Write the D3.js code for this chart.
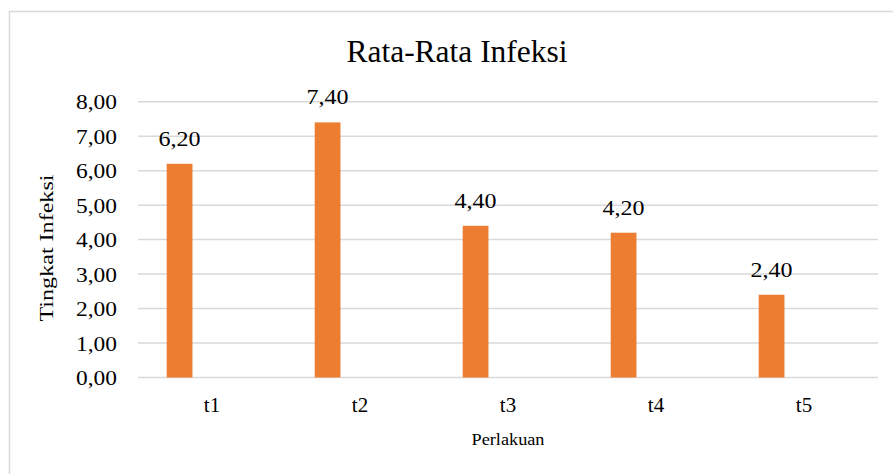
<!DOCTYPE html>
<html>
<head>
<meta charset="utf-8">
<script src="https://cdn.jsdelivr.net/npm/d3@7"></script>
<style>
  body { margin: 0; background: #fff; }
</style>
</head>
<body>
<div id="chart"></div>
<script>
// data
var categories = ["t1", "t2", "t3", "t4", "t5"];
var values = [6.2, 7.4, 4.4, 4.2, 2.4];
var yTicks = [0, 1, 2, 3, 4, 5, 6, 7, 8];

var W = 893, H = 474;
var serif = "'Liberation Serif', 'Times New Roman', Times, serif";
var margin = {top: 101.7, right: 15, bottom: 96.5, left: 138},
    width = W - margin.left - margin.right,
    height = H - margin.top - margin.bottom;

var fmt = function(v) { return d3.format(".2f")(v).replace(".", ","); };

var root = d3.select("#chart")
  .append("svg")
    .attr("width", W)
    .attr("height", H)
    .attr("font-family", serif);

// outer frame
root.append("rect")
  .attr("x", 9.5).attr("y", 11.5)
  .attr("width", W).attr("height", H)
  .attr("fill", "none")
  .attr("stroke", "#d9d9d9")
  .attr("stroke-width", 1.5);

var svg = root.append("g")
  .attr("transform", "translate(" + margin.left + "," + margin.top + ")");

var x = d3.scaleBand()
  .range([0, width])
  .domain(categories);

var y = d3.scaleLinear()
  .domain([0, 8])
  .range([height, 0]);

// gridlines
svg.append("g")
  .selectAll("line")
  .data(yTicks)
  .enter()
  .append("line")
    .attr("x1", 0).attr("x2", width)
    .attr("y1", function(d) { return y(d); })
    .attr("y2", function(d) { return y(d); })
    .attr("stroke", "#d9d9d9")
    .attr("stroke-width", 1.5);

// y axis labels
var yAxis = svg.append("g")
  .call(d3.axisLeft(y).tickValues(yTicks).tickFormat(fmt).tickSize(0).tickPadding(21))
  .attr("font-family", serif)
  .attr("font-size", 20);
yAxis.select(".domain").remove();
yAxis.selectAll("text")
  .attr("fill", "#000")
  .attr("dy", "0.35em")
  .attr("textLength", 41)
  .attr("lengthAdjust", "spacingAndGlyphs");

// x axis labels
var xAxis = svg.append("g")
  .attr("transform", "translate(0," + height + ")")
  .call(d3.axisBottom(x).tickSize(0).tickPadding(20))
  .attr("font-family", serif)
  .attr("font-size", 21);
xAxis.select(".domain").remove();
xAxis.selectAll("text").attr("fill", "#000");

// bars (sit left of center, as in a clustered layout)
var barOff = 0.194, barW = 0.174;
svg.selectAll("mybar")
  .data(values)
  .enter()
  .append("rect")
    .attr("x", function(d, i) { return x(categories[i]) + x.bandwidth() * barOff; })
    .attr("y", function(d) { return y(d); })
    .attr("width", x.bandwidth() * barW)
    .attr("height", function(d) { return height - y(d); })
    .attr("fill", "#ed7d31");

// value labels
svg.selectAll("vlabel")
  .data(values)
  .enter()
  .append("text")
    .attr("x", function(d, i) { return x(categories[i]) + x.bandwidth() * (barOff + barW / 2); })
    .attr("y", function(d) { return y(d) - 18; })
    .attr("text-anchor", "middle")
    .attr("font-size", 21)
    .attr("textLength", 42)
    .attr("lengthAdjust", "spacingAndGlyphs")
    .text(function(d) { return fmt(d); });

// title
root.append("text")
  .attr("x", 457).attr("y", 62)
  .attr("text-anchor", "middle")
  .attr("font-size", 31.5)
  .attr("textLength", 221)
  .attr("lengthAdjust", "spacingAndGlyphs")
  .text("Rata-Rata Infeksi");

// axis titles
root.append("text")
  .attr("transform", "translate(53,248) rotate(-90)")
  .attr("text-anchor", "middle")
  .attr("font-size", 19)
  .attr("textLength", 147)
  .attr("lengthAdjust", "spacingAndGlyphs")
  .text("Tingkat Infeksi");

root.append("text")
  .attr("x", 508).attr("y", 445)
  .attr("text-anchor", "middle")
  .attr("font-size", 17)
  .attr("textLength", 73)
  .attr("lengthAdjust", "spacingAndGlyphs")
  .text("Perlakuan");
</script>
</body>
</html>
